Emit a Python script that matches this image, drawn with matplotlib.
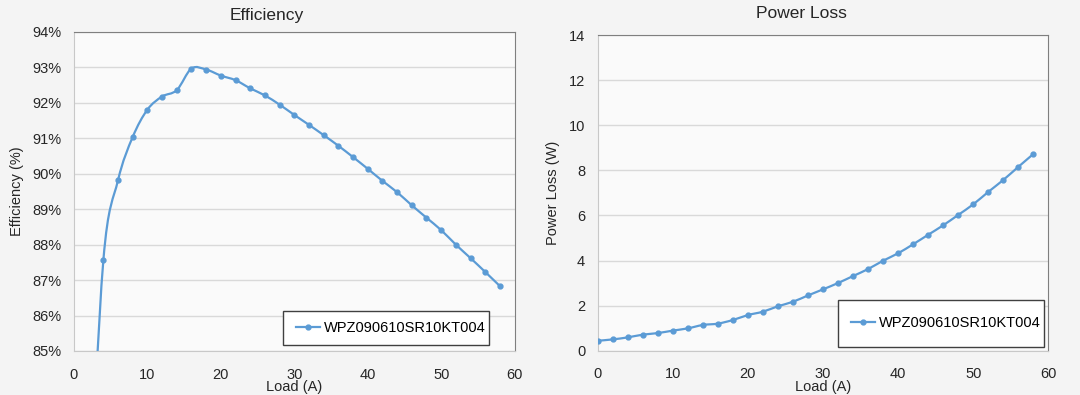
import matplotlib.pyplot as plt
from matplotlib.ticker import FuncFormatter
from matplotlib.path import Path
from matplotlib.patches import PathPatch, Rectangle
from matplotlib.lines import Line2D

plt.rcParams['font.family'] = ['Liberation Sans', 'DejaVu Sans']

# data
eff_load = [2, 4, 6, 8, 10, 12, 14, 16, 18, 20, 22, 24, 26, 28, 30,
            32, 34, 36, 38, 40, 42, 44, 46, 48, 50, 52, 54, 56, 58]
eff_values = [80.0, 87.56, 89.82, 91.04, 91.81, 92.18, 92.36, 92.97, 92.94,
              92.77, 92.64, 92.41, 92.21, 91.95, 91.66, 91.38, 91.09, 90.79,
              90.47, 90.14, 89.80, 89.48, 89.11, 88.76, 88.41, 88.00, 87.62,
              87.23, 86.83]

loss_load = [0, 2, 4, 6, 8, 10, 12, 14, 16, 18, 20, 22, 24, 26, 28, 30,
             32, 34, 36, 38, 40, 42, 44, 46, 48, 50, 52, 54, 56, 58]
loss_values = [0.44, 0.50, 0.59, 0.71, 0.78, 0.89, 0.99, 1.14, 1.20, 1.36,
               1.58, 1.73, 1.97, 2.17, 2.45, 2.72, 3.00, 3.31, 3.62, 3.99,
               4.32, 4.72, 5.14, 5.56, 6.02, 6.49, 7.04, 7.57, 8.15, 8.72]

series_name = "WPZ090610SR10KT004"
line_color = "#5b9bd5"
text_color = "#262626"


def smooth_path(x, y):
    # excel-like smoothed line: bezier segments through the data points
    n = len(x)
    verts = [(x[0], y[0])]
    codes = [Path.MOVETO]
    for i in range(n - 1):
        xa, ya = (x[i - 1], y[i - 1]) if i > 0 else (x[i], y[i])
        xb, yb = (x[i + 2], y[i + 2]) if i + 2 < n else (x[i + 1], y[i + 1])
        c1 = (x[i] + (x[i + 1] - xa) / 6, y[i] + (y[i + 1] - ya) / 6)
        c2 = (x[i + 1] - (xb - x[i]) / 6, y[i + 1] - (yb - y[i]) / 6)
        verts += [c1, c2, (x[i + 1], y[i + 1])]
        codes += [Path.CURVE4] * 3
    return Path(verts, codes)


def draw_series(ax, x, y):
    ax.add_patch(PathPatch(smooth_path(x, y), facecolor="none",
                           edgecolor=line_color, linewidth=1.6, zorder=3))
    ax.plot(x, y, linestyle="none", color=line_color, marker="o",
            markersize=3.5, zorder=4)


def style_axes(ax):
    ax.set_facecolor("#fafafa")
    ax.grid(axis="y", color="#d9d9d9", linewidth=1)
    ax.set_axisbelow(True)
    for side in ["top", "right"]:
        ax.spines[side].set_color("#7f7f7f")
    for side in ["left", "bottom"]:
        ax.spines[side].set_color("#c8c8c8")
    ax.tick_params(length=0, labelsize=10.5, labelcolor=text_color)
    ax.tick_params(axis="y", pad=9)
    ax.tick_params(axis="x", pad=12)


def boxed_legend(ax, box):
    ax.add_patch(Rectangle(box[:2], box[2], box[3], transform=ax.transAxes,
                           facecolor="white", edgecolor="#404040",
                           linewidth=1, zorder=5))
    handle = Line2D([], [], color=line_color, linewidth=1.6,
                    marker="o", markersize=3.5)
    leg = ax.legend([handle], [series_name], loc="center left",
                    bbox_to_anchor=(box[0], box[1] + box[3] / 2),
                    frameon=False, fontsize=10.5, borderaxespad=0,
                    borderpad=0.9, handlelength=1.65, handletextpad=0.25)
    leg.set_zorder(6)


fig = plt.figure(figsize=(10.8, 3.95), dpi=100, facecolor="#f4f4f4")

ax1 = fig.add_axes([0.0685, 0.1114, 0.408, 0.8076])
ax2 = fig.add_axes([0.5534, 0.1122, 0.4172, 0.799])

# efficiency
draw_series(ax1, eff_load, eff_values)
ax1.set_xlim(0, 60)
ax1.set_ylim(85, 94)
ax1.set_xticks(range(0, 61, 10))
ax1.set_yticks(range(85, 95))
ax1.yaxis.set_major_formatter(FuncFormatter(lambda v, p: f"{v:.0f}%"))
style_axes(ax1)
ax1.set_xlabel("Load (A)", fontsize=10.5, color=text_color, labelpad=-1)
ax1.set_ylabel("Efficiency (%)", fontsize=10.5, color=text_color, labelpad=6)
boxed_legend(ax1, (0.475, 0.019, 0.466, 0.106))
fig.text(0.247, 0.962, "Efficiency", ha="center", va="center",
         fontsize=12.5, color=text_color)

# power loss
draw_series(ax2, loss_load, loss_values)
ax2.set_xlim(0, 60)
ax2.set_ylim(0, 14)
ax2.set_xticks(range(0, 61, 10))
ax2.set_yticks(range(0, 15, 2))
style_axes(ax2)
ax2.set_xlabel("Load (A)", fontsize=10.5, color=text_color, labelpad=-1)
ax2.set_ylabel("Power Loss (W)", fontsize=10.5, color=text_color, labelpad=6)
boxed_legend(ax2, (0.534, 0.013, 0.457, 0.147))
fig.text(0.742, 0.967, "Power Loss", ha="center", va="center",
         fontsize=12.5, color=text_color)

fig.savefig("out.png", dpi=100, facecolor=fig.get_facecolor())
plt.close(fig)
